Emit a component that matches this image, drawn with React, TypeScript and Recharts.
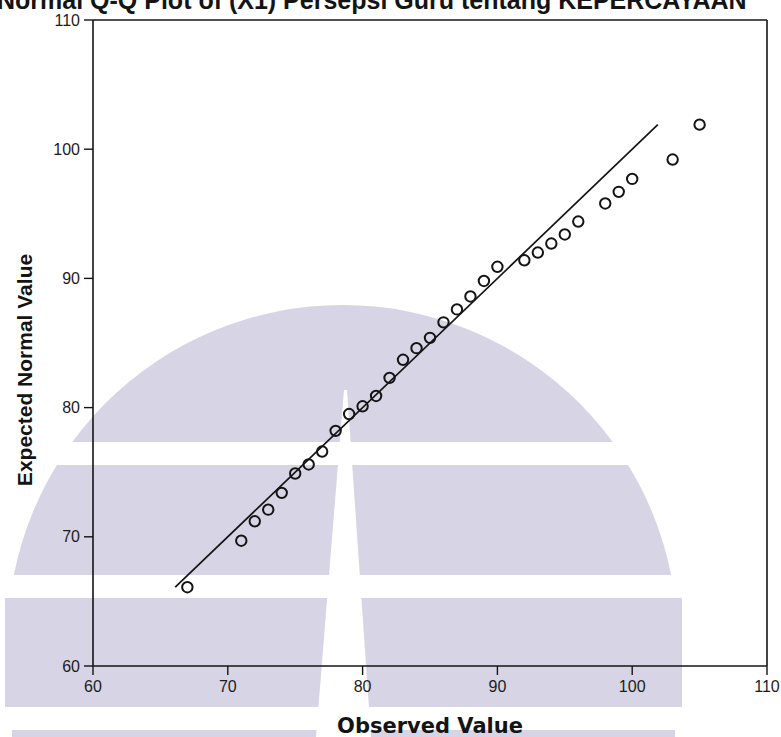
import { ScatterChart, Scatter, XAxis, YAxis, ReferenceLine } from 'recharts';

const observed = [
  67, 71, 72, 73, 74, 75, 76, 77, 78, 79, 80, 81, 82, 83, 84, 85,
  86, 87, 88, 89, 90, 92, 93, 94, 95, 96, 98, 99, 100, 103, 105,
];
const expected = [
  66.1, 69.7, 71.2, 72.1, 73.4, 74.9, 75.6, 76.6, 78.2, 79.5, 80.1, 80.9, 82.3, 83.7, 84.6, 85.4,
  86.6, 87.6, 88.6, 89.8, 90.9, 91.4, 92.0, 92.7, 93.4, 94.4, 95.8, 96.7, 97.7, 99.2, 101.9,
];
// reference line end points
const refLineX = [66.1, 101.9];
const refLineY = [66.1, 101.9];
const axisTicks = [60, 70, 80, 90, 100, 110];

const points = observed.map((x, i) => ({ x, y: expected[i] }));
const refLine = refLineX.map((x, i) => ({ x, y: refLineY[i] }));

const ink = '#141414';
const wash = '#d7d5e5';
const arial = '"Liberation Sans", Arial, sans-serif';

const tickStyle = { fontSize: 16, fill: '#1c1c1c', fontFamily: arial };

const OpenDot = (p: any) => (
  <circle cx={p.cx} cy={p.cy} r={5.2} fill="none" stroke={ink} strokeWidth={2} />
);
const NoDot = () => <g />;

// faded logo behind the scan
function Watermark() {
  return (
    <svg width={781} height={737} style={{ position: 'absolute', left: 0, top: 0 }}>
      <defs>
        <clipPath id="dome">
          <rect x={0} y={0} width={781} height={598} />
        </clipPath>
      </defs>
      <circle cx={342.5} cy={640} r={335} fill={wash} clipPath="url(#dome)" />
      <rect x={5} y={598} width={677} height={109} fill={wash} />
      <rect x={12} y={730} width={663} height={7} fill={wash} />
      <rect x={0} y={442} width={781} height={23} fill="#fff" />
      <rect x={0} y={575} width={781} height={23} fill="#fff" />
      <polygon points="344,390 347,390 371,737 316,737" fill="#fff" />
      <text x={-3} y={9} fontFamily={arial} fontWeight="bold" fontSize={25} fill={ink}>
        Normal Q-Q Plot of (X1) Persepsi Guru tentang KEPERCAYAAN
      </text>
      <text
        x={32}
        y={370}
        transform="rotate(-90 32 370)"
        textAnchor="middle"
        fontFamily={arial}
        fontWeight="bold"
        fontSize={21}
        fill={ink}
      >
        Expected Normal Value
      </text>
      <text
        x={430}
        y={733}
        textAnchor="middle"
        fontFamily='"DejaVu Sans", Verdana, sans-serif'
        fontWeight="bold"
        fontSize={21}
        fill={ink}
      >
        Observed Value
      </text>
    </svg>
  );
}

export default function App() {
  return (
    <div style={{ position: 'absolute', left: 0, top: 0, width: 781, height: 737, background: '#fff', overflow: 'hidden' }}>
      <Watermark />
      <div style={{ position: 'absolute', left: 0, top: 0 }}>
        <ScatterChart width={781} height={737} margin={{ top: 20, right: 14, bottom: 0, left: 0 }}>
          <XAxis
            type="number"
            dataKey="x"
            domain={[60, 110]}
            ticks={axisTicks}
            allowDataOverflow
            height={71}
            tick={tickStyle}
            tickSize={9}
            tickMargin={6}
            axisLine={{ stroke: ink, strokeWidth: 1.6 }}
            tickLine={{ stroke: ink, strokeWidth: 1.4 }}
          />
          <YAxis
            type="number"
            dataKey="y"
            domain={[60, 110]}
            ticks={axisTicks}
            allowDataOverflow
            width={93}
            tick={tickStyle}
            tickSize={9}
            tickMargin={4}
            axisLine={{ stroke: ink, strokeWidth: 1.6 }}
            tickLine={{ stroke: ink, strokeWidth: 1.4 }}
          />
          <ReferenceLine y={110} stroke={ink} strokeWidth={1.6} />
          <ReferenceLine x={110} stroke={ink} strokeWidth={1.6} />
          <Scatter
            data={refLine}
            line={{ stroke: ink, strokeWidth: 1.7 }}
            shape={NoDot}
            isAnimationActive={false}
          />
          <Scatter data={points} shape={OpenDot} isAnimationActive={false} />
        </ScatterChart>
      </div>
    </div>
  );
}
